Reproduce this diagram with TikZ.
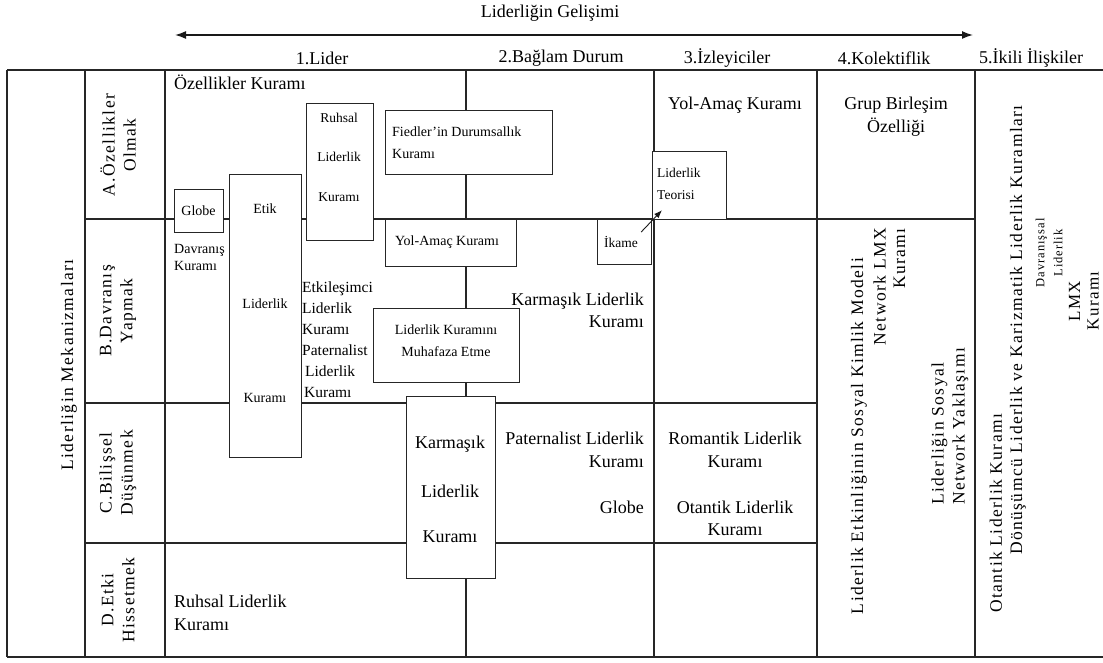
\documentclass[tikz,border=0pt]{standalone}
\usepackage{fontspec}
\setmainfont{Liberation Serif}
\newfontfamily\spacedfont{Liberation Serif}[LetterSpace=8]
\usetikzlibrary{arrows.meta,calc}
\newcommand\fsz[2]{\fontsize{#1}{#2}\selectfont}
\newcommand\boxat[5]{\node[box,minimum width=#4pt,minimum height=#5pt] (#1) at (#2,#3) {};}
\begin{document}
\begin{tikzpicture}[x=1pt,y=-1pt,
  grid/.style={line width=1.2pt, draw=black!85},
  box/.style={draw=black!85, line width=1.2pt, fill=white, rectangle, inner sep=0pt, anchor=north west},
  big/.style={font=\fsz{18}{22.5}, inner sep=0pt},
  small/.style={font=\fsz{14}{17}, inner sep=0pt},
  tiny/.style={font=\fsz{13.5}{17}, inner sep=0pt},
  rot/.style={rotate=90, inner sep=0pt, font=\spacedfont\fsz{17.5}{21}},
]
\useasboundingbox (0,0) rectangle (1103,663);
% frame and grid
\draw[grid] (7,70) -- (1103,70);
\draw[grid] (7,657) -- (1103,657);
\draw[grid] (7,70) -- (7,657);
\foreach \xx in {85,165,466,654,817,975} {\draw[grid] (\xx,70) -- (\xx,657);}
\draw[grid] (85,219) -- (975,219);
\draw[grid] (85,403) -- (817,403);
\draw[grid] (85,543) -- (817,543);
% top arrow
\coordinate (al) at (175,35);
\coordinate (ar) at (973,35);
\draw[line width=1.5pt, draw=black!90, {Latex[length=11pt,width=8pt]}-{Latex[length=11pt,width=8pt]}] (al) -- (ar);
\node[big] (title) at (550,13) {Liderliğin Gelişimi};
\node[big] (h1) at (322,58) {1.Lider};
\node[big] (h2) at (561,58) {2.Bağlam Durum};
\node[big] (h3) at (727,58) {3.İzleyiciler};
\node[big] (h4) at (884,58) {4.Kolektiflik};
\node[big] (h5) at (1031,58) {5.İkili İlişkiler};
% boxes
\boxat{globe}{174}{189}{49}{43}
\boxat{etik}{229}{174}{72}{283}
\boxat{ruhsal}{306}{103}{67}{137}
\boxat{fiedler}{385}{110}{167}{64}
\boxat{yolamac}{385}{219}{131}{47}
\boxat{muhafaza}{373}{308}{146}{74}
\boxat{karmasik}{406}{396}{89}{182}
\boxat{ikame}{597}{219}{54}{45}
\boxat{teori}{652}{151}{74}{68}
% arrow Ikame -> Teorisi
\draw[line width=0.9pt, draw=black!90, -{Latex[length=8pt,width=6pt]}] ($(ikame.north east)+(-11,13)$) -- ($(teori.south west)+(10,-10)$);
% box texts
\node[small] (tglobe) at (198.5,210.5) {Globe};
\node[small] (tetik1) at (265,209) {Etik};
\node[small] (tetik2) at (265,304) {Liderlik};
\node[small] (tetik3) at (265,398) {Kuramı};
\node[tiny] (truh1) at (339,118) {Ruhsal};
\node[tiny] (truh2) at (339,157) {Liderlik};
\node[tiny] (truh3) at (339,197) {Kuramı};
\node[small, font=\fsz{14}{22}, anchor=west, align=left] (tfied) at (392,143) {Fiedler'in Durumsallık\\Kuramı};
\node[small] (tyol) at (447,242) {Yol-Amaç Kuramı};
\node[small, font=\fsz{14}{22}, align=center] (tmuh) at (446,341) {Liderlik Kuramını\\Muhafaza Etme};
\node[big] (tkar1) at (450,444) {Karmaşık};
\node[big] (tkar2) at (450,491) {Liderlik};
\node[big] (tkar3) at (450,537) {Kuramı};
\node[tiny] (tikame) at (621,242) {İkame};
\node[tiny, font=\fsz{13.5}{22}, anchor=west, align=left] (tteori) at (657,184) {Liderlik\\Teorisi};
% column 1 texts
\node[big, anchor=west] (ozk) at (174,82) {Özellikler Kuramı};
\node[small, anchor=west, align=left] (davk) at (174,257.5) {Davranış\\Kuramı};
\node[inner sep=0pt, font=\fsz{15.5}{20.9}, anchor=west, align=left] (etkil) at (302,339.5) {Etkileşimci\\Liderlik\\Kuramı\\Paternalist\\\hspace*{3pt}Liderlik\\\hspace*{2pt}Kuramı};
\node[big, font=\fsz{18}{23.5}, anchor=west, align=left] (ruhd) at (174,613) {Ruhsal Liderlik\\Kuramı};
% column 2 texts
\node[big, anchor=east, align=right] (kar2) at (644,310.5) {Karmaşık Liderlik\\Kuramı};
\node[big, anchor=east, align=right] (pat2) at (644,450) {Paternalist Liderlik\\Kuramı};
\node[big, anchor=east] (glo2) at (644,507) {Globe};
% column 3 texts
\node[big] (yol3) at (735,105) {Yol-Amaç Kuramı};
\node[big, align=center] (rom3) at (735,450) {Romantik Liderlik\\Kuramı};
\node[big, align=center] (ota3) at (735,518.5) {Otantik Liderlik\\Kuramı};
% column 4 texts
\node[big, align=center] (grup) at (896,116.5) {Grup Birleşim\\Özelliği};
\node[rot] (skm) at (859,436) {Liderlik Etkinliğinin Sosyal Kimlik Modeli};
\node[rot, font=\spacedfont\fsz{17.5}{19.5}, anchor=east, align=right] (nlmx) at (889.5,228) {Network LMX\\Kuramı};
\node[rot, anchor=west, align=left] (sna) at (950,505) {Liderliğin Sosyal\\Network Yaklaşımı};
% column 5 texts
\node[rot, anchor=west] (otk) at (996,613) {Otantik Liderlik Kuramı};
\node[rot, anchor=west] (dkl) at (1018,555) {Dönüşümcü Liderlik ve Karizmatik Liderlik Kuramları};
\node[rot, font=\spacedfont\fsz{12.5}{18}, align=center] (dvl) at (1049,253) {Davranışsal\\Liderlik};
\node[rot, font=\spacedfont\fsz{17}{18.5}, align=center] (lmx) at (1084,301) {LMX\\Kuramı};
% row labels
\node[rot] (mek) at (69,365) {Liderliğin Mekanizmaları};
\node[rot, align=center] (ra) at (118,145) {A.Özellikler\\Olmak};
\node[rot, align=center] (rb) at (118,311) {B.Davranış\\Yapmak};
\node[rot, align=center] (rc) at (118,473) {C.Bilişsel\\Düşünmek};
\node[rot, align=center] (rd) at (118,600) {D.Etki\\Hissetmek};
\end{tikzpicture}
\end{document}
